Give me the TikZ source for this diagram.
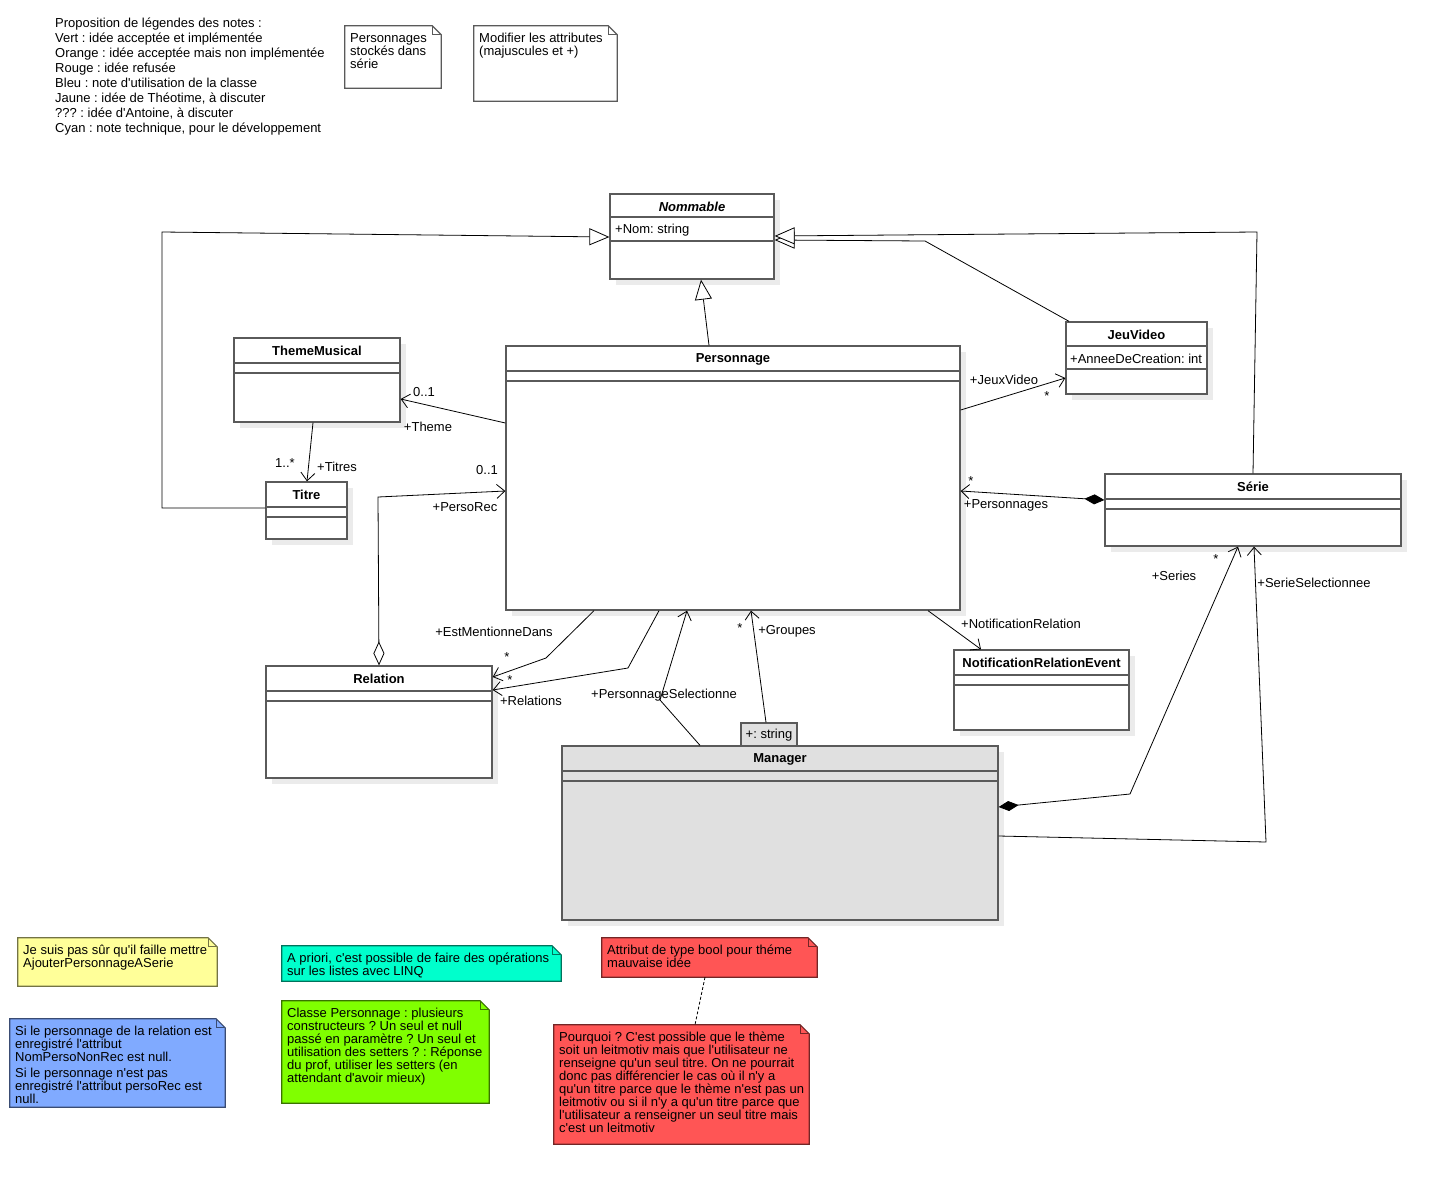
\documentclass[tikz,border=0pt]{standalone}
\usepackage{fontspec}
\setmainfont{Liberation Sans}[Ligatures=TeXOff]
\frenchspacing
\usetikzlibrary{arrows.meta,shadows,fit}
\definecolor{boxline}{HTML}{5A5A5A}
\definecolor{shadowgray}{HTML}{EBEBEB}
\definecolor{mgrfill}{HTML}{E0E0E0}
\definecolor{nyellow}{HTML}{FFFF99}
\definecolor{ncyan}{HTML}{00FFCC}
\definecolor{nblue}{HTML}{80AAFF}
\definecolor{ngreen}{HTML}{80FF00}
\definecolor{nred}{HTML}{FF5555}
\newcommand\fl{\rule{0pt}{12pt}}
\newcommand\umlclass[9]{%
  \node[classbox, fill=#9, fit={(#2,#3) (#4,#5)}] (#1) {};
  \node[classtitle] (#1-t) at ({(#2+#4)/2},{#3+12}) {#6};
  \draw[classline] (#2,#7) -- (#4,#7) (#2,#8) -- (#4,#8);
}
\newcommand\umlnote[9]{%
  \node[inner sep=0, fit={(#2,#3) (#4,#5)}] (#1) {};
  \draw[draw=#7, line width=1.2pt, fill=#6, line join=miter]
    (#1.north west) -- ([xshift=-9pt]#1.north east) -- ([yshift=-9pt]#1.north east)
    -- (#1.south east) -- (#1.south west) -- cycle;
  \draw[draw=#7, line width=1pt] ([xshift=-9pt]#1.north east) -- ([xshift=-9pt,yshift=-9pt]#1.north east) -- ([yshift=-9pt]#1.north east);
  \node[notetext, text=#8] (#1-txt) at ({#2+5},{#3+3}) {#9};
}
\begin{document}
\begin{tikzpicture}[x=1pt,y=-1pt,
  classbox/.style={draw=boxline, line width=1.3pt, inner sep=0pt,
    drop shadow={shadow xshift=6pt, shadow yshift=-6pt, fill=shadowgray, opacity=1}},
  classtitle/.style={font=\fontsize{13}{15}\selectfont\bfseries, inner sep=0pt, yshift=-1pt},
  classline/.style={draw=boxline, line width=1.3pt},
  attrtext/.style={font=\fontsize{13}{15}\selectfont, inner sep=0pt, anchor=west, yshift=-1.5pt},
  plaintext/.style={font=\fontsize{13}{15}\selectfont, inner sep=0pt, anchor=north west, align=left, yshift=-1pt},
  notetext/.style={font=\fontsize{13}{13}\selectfont, inner sep=0pt, anchor=north west, align=left, yshift=-1.7pt},
  lbl/.style={font=\fontsize{13}{15}\selectfont, inner sep=0pt, yshift=-1pt},
  conn/.style={draw=black, line width=0.8pt},
  nav/.style={conn, -{Straight Barb[length=8pt, width=14pt, line width=0.8pt]}},
  gen/.style={conn, -{Triangle[open, length=20pt, width=17pt, line width=0.8pt, fill=white]}},
  aggr/.style={conn, {Diamond[open, length=24pt, width=11pt, line width=0.8pt, fill=white]}-{Straight Barb[length=8pt, width=14pt, line width=0.8pt]}},
  comp/.style={conn, {Diamond[length=20pt, width=10pt]}-{Straight Barb[length=8pt, width=14pt, line width=0.8pt]}},
]
\fill[white] (0,0) rectangle (1440,1186);
\useasboundingbox (0,0) rectangle (1440,1186);

% legend
\node[plaintext] (legend) at (55,14.7) {\fl Proposition de légendes des notes :\\
Vert : idée acceptée et implémentée\\
Orange : idée acceptée mais non implémentée\\
Rouge : idée refusée\\
Bleu : note d'utilisation de la classe\\
Jaune : idée de Théotime, à discuter\\
??? : idée d'Antoine, à discuter\\
Cyan : note technique, pour le développement};

% top notes
\umlnote{n1}{345}{26}{441}{88}{white}{boxline}{black}{\fl Personnages\\stockés dans\\série}
\umlnote{n2}{474}{26}{617}{101}{white}{boxline}{black}{\fl Modifier les attributes\\(majuscules et +)}

% classes
\umlclass{nom}{610}{194}{774}{279}{\textit{Nommable}}{217}{241}{white}
\node[attrtext] (nom-a) at (615,229) {+Nom: string};
\umlclass{tm}{234}{338}{400}{422}{ThemeMusical}{363}{373}{white}
\umlclass{titre}{266}{482}{347}{539}{Titre}{507}{517}{white}
\umlclass{pers}{506}{346}{960}{610}{Personnage}{371}{381}{white}
\umlclass{jeu}{1066}{322}{1207}{394}{JeuVideo}{346}{369}{white}
\node[attrtext] (jeu-a) at (1070,357) {+AnneeDeCreation: int};
\umlclass{serie}{1105}{474}{1401}{546}{Série}{499}{509}{white}
\umlclass{rel}{266}{666}{492}{778}{Relation}{691}{701}{white}
\umlclass{nre}{954}{650}{1129}{730}{NotificationRelationEvent}{675}{685}{white}
\umlclass{man}{562}{746}{998}{920}{Manager}{771}{781}{mgrfill}
\node[draw=boxline, line width=1.2pt, fill=mgrfill, inner sep=0, fit={(741,723) (797,746)}] (qual) {};
\node[lbl] (qual-t) at (769,734.5) {+: string};

% generalizations
\draw[gen] (titre.west |- 0,508) -- (162,508) -- (162,232) -- (nom.west |- 0,237);
\draw[gen] (pers.north -| 709,0) -- (nom.south -| 701,0);
\draw[gen] (jeu.north -| 1069,0) -- (925,241) -- (nom.east |- 0,240);
\draw[gen] (serie.north -| 1253,0) -- (1257,232) -- (nom.east |- 0,236);

% associations
\draw[nav] (pers.west |- 0,423) -- (tm.east |- 0,399);
\node[lbl] (l-th1) at (424,391) {0..1};
\node[lbl] (l-th2) at (428,426) {+Theme};

\draw[nav] (tm.south -| 313,0) -- (titre.north -| 307,0);
\node[lbl] (l-ti1) at (285,462) {1..*};
\node[lbl] (l-ti2) at (337,466) {+Titres};

\draw[aggr] (rel.north -| 379,0) -- (378,497) -- (pers.west |- 0,491);
\node[lbl] (l-pr1) at (487,469) {0..1};
\node[lbl] (l-pr2) at (465,506) {+PersoRec};

\draw[nav] (pers.south -| 594,0) -- (546,658) -- (rel.east |- 0,677);
\node[lbl] (l-em1) at (494,631) {+EstMentionneDans};
\node[lbl] (l-em2) at (507,656) {*};

\draw[nav] (pers.south -| 659,0) -- (628,668) -- (rel.east |- 0,690);
\node[lbl] (l-re1) at (510,679) {*};
\node[lbl] (l-re2) at (531,700) {+Relations};

\draw[nav] (man.north -| 700,0) -- (660,700) -- (pers.south -| 687,0);
\node[lbl] (l-ps) at (664,694) {+PersonnageSelectionne};

\draw[nav] (qual.north -| 766,0) -- (pers.south -| 751,0);
\node[lbl] (l-gr1) at (740,627) {*};
\node[lbl] (l-gr2) at (787,630) {+Groupes};

\draw[nav] (pers.east |- 0,410) -- (jeu.west |- 0,378);
\node[lbl] (l-jv1) at (1004,379) {+JeuxVideo};
\node[lbl] (l-jv2) at (1047,395) {*};

\draw[comp] (serie.west |- 0,500) -- (pers.east |- 0,491);
\node[lbl] (l-pe1) at (971,480) {*};
\node[lbl] (l-pe2) at (1006,504) {+Personnages};

\draw[nav] (pers.south -| 928,0) -- (nre.north -| 981,0);
\node[lbl] (l-nr) at (1021,623) {+NotificationRelation};

\draw[comp] (man.east |- 0,807) -- (1130,794) -- (serie.south -| 1238,0);
\node[lbl] (l-se1) at (1216,558) {*};
\node[lbl] (l-se2) at (1174,575) {+Series};

\draw[nav] (man.east |- 0,836) -- (1266,842) -- (serie.south -| 1254,0);
\node[lbl] (l-ss) at (1314,582) {+SerieSelectionnee};

% bottom notes
\umlnote{ny}{18}{938}{217}{986}{nyellow}{nyellow!45!black}{black}{\fl Je suis pas sûr qu'il faille mettre\\AjouterPersonnageASerie}
\umlnote{nc}{282}{946}{561}{981}{ncyan}{ncyan!45!black}{black}{\fl A priori, c'est possible de faire des opérations\\sur les listes avec LINQ}
\umlnote{nb}{10}{1019}{225}{1107}{nblue}{nblue!45!black}{black}{\fl Si le personnage de la relation est\\enregistré l'attribut\\NomPersoNonRec est null.\\[2.5pt]Si le personnage n'est pas\\enregistré l'attribut persoRec est\\null.}
\umlnote{ng}{282}{1001}{489}{1103}{ngreen}{ngreen!45!black}{black}{\fl Classe Personnage : plusieurs\\constructeurs ? Un seul et null\\passé en paramètre ? Un seul et\\utilisation des setters ? : Réponse\\du prof, utiliser les setters (en\\attendant d'avoir mieux)}
\umlnote{nr1}{602}{938}{817}{977}{nred}{nred!45!black}{black}{\fl Attribut de type bool pour théme\\mauvaise idée}
\umlnote{nr2}{554}{1025}{809}{1144}{nred}{nred!45!black}{black}{\fl Pourquoi ? C'est possible que le thème\\soit un leitmotiv mais que l'utilisateur ne\\renseigne qu'un seul titre. On ne pourrait\\donc pas différencier le cas où il n'y a\\qu'un titre parce que le thème n'est pas un\\leitmotiv ou si il n'y a qu'un titre parce que\\l'utilisateur a renseigner un seul titre mais\\c'est un leitmotiv}
\draw[conn, dashed, dash pattern=on 3pt off 2pt] (nr1.south -| 705,0) -- (nr2.north -| 695,0);
\end{tikzpicture}
\end{document}
